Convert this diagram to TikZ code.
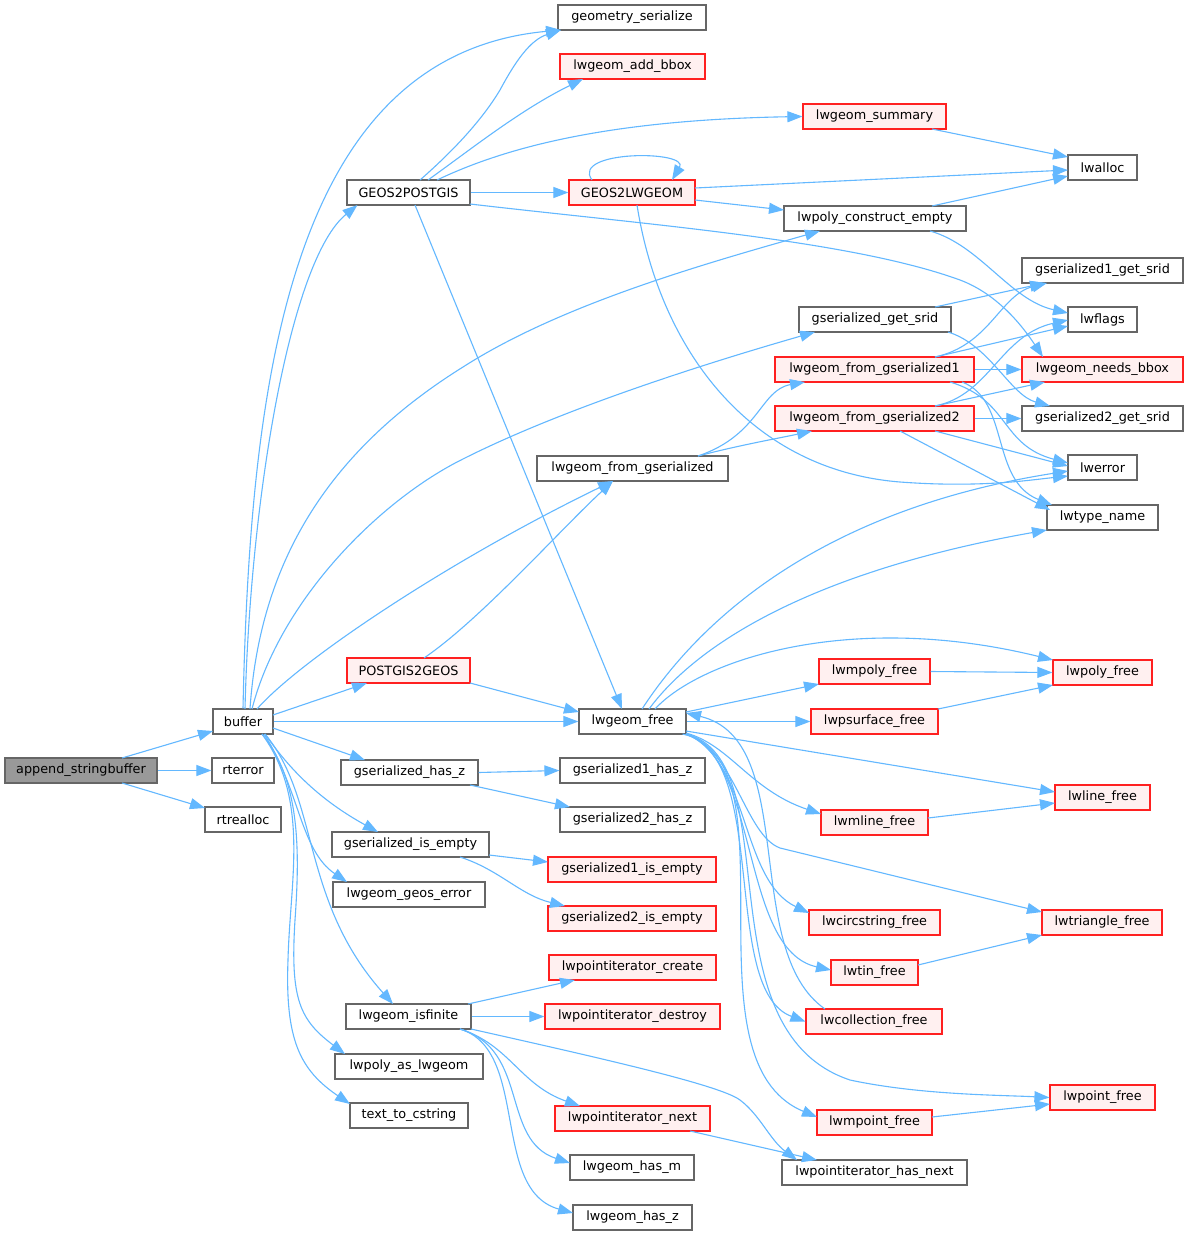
\documentclass[tikz,border=0pt]{standalone}
\usepackage{fontspec}
\setmainfont{DejaVu Sans}
\usetikzlibrary{arrows.meta}
\definecolor{edgec}{HTML}{63B8FF}
\definecolor{gborder}{HTML}{666666}
\definecolor{rfill}{HTML}{FFF0F0}
\definecolor{rborder}{HTML}{FF2020}
\definecolor{rootfill}{HTML}{999999}
\tikzset{
  nd/.style={draw=gborder, fill=white, line width=1.2pt, minimum height=25pt, inner sep=0pt,
    font=\fontsize{12.8}{14}\selectfont, text=black},
  rd/.style={nd, draw=rborder, fill=rfill},
  gr/.style={nd, fill=rootfill},
  ed/.style={draw=edgec, line width=1.1pt, -{Triangle[length=15pt,width=11pt]}}
}
\begin{document}
\begin{tikzpicture}[x=1pt,y=-1pt]
\useasboundingbox (0,0) rectangle (1188,1236);
\fill[white] (0,0) rectangle (1188,1236);

% ---------- nodes ----------
\node[gr, minimum width=152pt] (asb) at (81,770.5) {append\_stringbuffer};
\node[nd, minimum width=60pt] (buf) at (243,721.5) {buffer};
\node[nd, minimum width=62pt] (rterr) at (243,770.5) {rterror};
\node[nd, minimum width=76pt] (rtre) at (243,819.5) {rtrealloc};
\node[nd, minimum width=148pt] (gser) at (632,17.5) {geometry\_serialize};
\node[rd, minimum width=145pt] (addbb) at (632.5,66.5) {lwgeom\_add\_bbox};
\node[rd, minimum width=143pt] (summ) at (874.5,116.5) {lwgeom\_summary};
\node[nd, minimum width=69pt] (lwalloc) at (1102.5,167.5) {lwalloc};
\node[nd, minimum width=123pt] (g2p) at (408.5,192.5) {GEOS2POSTGIS};
\node[rd, minimum width=126pt] (g2l) at (632,192.5) {GEOS2LWGEOM};
\node[nd, minimum width=182pt] (pce) at (875,218.5) {lwpoly\_construct\_empty};
\node[nd, minimum width=161pt] (g1srid) at (1102.5,270.5) {gserialized1\_get\_srid};
\node[nd, minimum width=69pt] (lwflags) at (1102.5,319.5) {lwflags};
\node[nd, minimum width=152pt] (gsrid) at (875,319.5) {gserialized\_get\_srid};
\node[rd, minimum width=199pt] (fg1) at (874.5,369.5) {lwgeom\_from\_gserialized1};
\node[rd, minimum width=161pt] (nbbox) at (1102.5,369.5) {lwgeom\_needs\_bbox};
\node[rd, minimum width=199pt] (fg2) at (874.5,418.5) {lwgeom\_from\_gserialized2};
\node[nd, minimum width=161pt] (g2srid) at (1102.5,418.5) {gserialized2\_get\_srid};
\node[nd, minimum width=191pt] (fgs) at (632.5,468.5) {lwgeom\_from\_gserialized};
\node[nd, minimum width=69pt] (lwerror) at (1102.5,467.5) {lwerror};
\node[nd, minimum width=111pt] (tname) at (1102.5,517.5) {lwtype\_name};
\node[rd, minimum width=123pt] (p2g) at (408.5,670.5) {POSTGIS2GEOS};
\node[rd, minimum width=111pt] (mpolyf) at (874.5,671.5) {lwmpoly\_free};
\node[rd, minimum width=99pt] (polyf) at (1102.5,672.5) {lwpoly\_free};
\node[nd, minimum width=107pt] (gfree) at (632.5,721.5) {lwgeom\_free};
\node[rd, minimum width=127pt] (psurf) at (874.5,721.5) {lwpsurface\_free};
\node[nd, minimum width=137pt] (hasz) at (409.5,772.5) {gserialized\_has\_z};
\node[nd, minimum width=145pt] (g1hasz) at (632.5,770.5) {gserialized1\_has\_z};
\node[rd, minimum width=95pt] (linef) at (1102.5,797.5) {lwline\_free};
\node[nd, minimum width=145pt] (g2hasz) at (632.5,819.5) {gserialized2\_has\_z};
\node[rd, minimum width=107pt] (mlinef) at (874.5,822.5) {lwmline\_free};
\node[nd, minimum width=157pt] (isempty) at (410.5,844.5) {gserialized\_is\_empty};
\node[rd, minimum width=168pt] (g1empty) at (632,869.5) {gserialized1\_is\_empty};
\node[nd, minimum width=152pt] (geoserr) at (409,894.5) {lwgeom\_geos\_error};
\node[rd, minimum width=131pt] (circf) at (874.5,922.5) {lwcircstring\_free};
\node[rd, minimum width=120pt] (trif) at (1102,922.5) {lwtriangle\_free};
\node[rd, minimum width=168pt] (g2empty) at (632,918.5) {gserialized2\_is\_empty};
\node[rd, minimum width=167pt] (picreate) at (632.5,967.5) {lwpointiterator\_create};
\node[rd, minimum width=87pt] (tinf) at (874.5,972.5) {lwtin\_free};
\node[nd, minimum width=125pt] (isfin) at (408.5,1016.5) {lwgeom\_isfinite};
\node[rd, minimum width=175pt] (pidestroy) at (632.5,1016.5) {lwpointiterator\_destroy};
\node[rd, minimum width=136pt] (collf) at (874,1021.5) {lwcollection\_free};
\node[nd, minimum width=148pt] (polyasl) at (409,1066.5) {lwpoly\_as\_lwgeom};
\node[rd, minimum width=105pt] (pointf) at (1102.5,1097.5) {lwpoint\_free};
\node[rd, minimum width=155pt] (pinext) at (632.5,1118.5) {lwpointiterator\_next};
\node[rd, minimum width=115pt] (mpointf) at (874.5,1122.5) {lwmpoint\_free};
\node[nd, minimum width=118pt] (tcstr) at (409,1115.5) {text\_to\_cstring};
\node[nd, minimum width=124pt] (hasm) at (632,1167.5) {lwgeom\_has\_m};
\node[nd, minimum width=185pt] (pihasnext) at (874.5,1172.5) {lwpointiterator\_has\_next};
\node[nd, minimum width=119pt] (hasz2) at (632.5,1217.5) {lwgeom\_has\_z};

% ---------- edges ----------
% append_stringbuffer
\draw[ed] ([shift={(41,-12.5)}]asb.center) -- ([shift={(-30,9.5)}]buf.center);
\draw[ed] (asb.east) -- (rterr.west);
\draw[ed] ([shift={(41,12.5)}]asb.center) -- ([shift={(-38,-11.5)}]rtre.center);

% buffer
\draw[ed] (buf.north) .. controls (250,380) and (290,55) .. ([shift={(-71,12.5)}]gser.center);
\draw[ed] ([shift={(2,-12.5)}]buf.center) .. controls (250,500) and (290,260) .. ([shift={(-51,12.5)}]g2p.center);
\draw[ed] ([shift={(7,-12.5)}]buf.center) .. controls (260,560) and (330,450) .. (463,367) .. controls (560,305) and (700,265) .. ([shift={(-55,12.5)}]pce.center);
\draw[ed] ([shift={(9,-12.5)}]buf.center) .. controls (280,600) and (380,500) .. (463,459) .. controls (560,410) and (700,365) .. ([shift={(-60,12.5)}]gsrid.center);
\draw[ed] ([shift={(14,-12.5)}]buf.center) .. controls (300,660) and (450,560) .. ([shift={(-19.5,12.5)}]fgs.center);
\draw[ed] ([shift={(30,-6.5)}]buf.center) -- ([shift={(-41.5,12.5)}]p2g.center);
\draw[ed] (buf.east) -- (gfree.west);
\draw[ed] ([shift={(30,6.5)}]buf.center) -- ([shift={(-44.5,-12.5)}]hasz.center);
\draw[ed] ([shift={(22,12.5)}]buf.center) .. controls (290,770) and (320,800) .. ([shift={(-32.5,-12.5)}]isempty.center);
\draw[ed] ([shift={(21,12.5)}]buf.center) .. controls (300,790) and (300,850) .. ([shift={(-62,-12.5)}]geoserr.center);
\draw[ed] ([shift={(22,12.5)}]buf.center) .. controls (320,800) and (300,900) .. ([shift={(-15.5,-12.5)}]isfin.center);
\draw[ed] ([shift={(19,12.5)}]buf.center) .. controls (300,780) and (300,850) .. (295,920) .. controls (290,1000) and (300,1020) .. ([shift={(-64,-12.5)}]polyasl.center);
\draw[ed] ([shift={(19,12.5)}]buf.center) .. controls (310,800) and (290,880) .. (288,960) .. controls (285,1040) and (300,1070) .. ([shift={(-59,-11.5)}]tcstr.center);

% POSTGIS2GEOS
\draw[ed] ([shift={(15.5,-12.5)}]p2g.center) .. controls (480,620) and (560,530) .. ([shift={(-19.5,12.5)}]fgs.center);
\draw[ed] ([shift={(61.5,12.5)}]p2g.center) -- ([shift={(-53.5,-9.5)}]gfree.center);

% GEOS2POSTGIS
\draw[ed] ([shift={(11.5,-12.5)}]g2p.center) .. controls (460,145) and (485,115) .. (500,90) .. controls (515,62) and (530,40) .. ([shift={(-71,12.5)}]gser.center);
\draw[ed] ([shift={(19.5,-12.5)}]g2p.center) .. controls (470,150) and (520,110) .. ([shift={(-49.5,12.5)}]addbb.center);
\draw[ed] ([shift={(28.5,-12.5)}]g2p.center) .. controls (500,150) and (600,120) .. (summ.west);
\draw[ed] (g2p.east) -- (g2l.west);
\draw[ed] ([shift={(61.5,11.5)}]g2p.center) .. controls (650,225) and (850,240) .. (960,280) .. controls (1000,295) and (1025,330) .. ([shift={(-59.5,-12.5)}]nbbox.center);
\draw[ed] ([shift={(6.5,12.5)}]g2p.center) -- ([shift={(-10.5,-12.5)}]gfree.center);

% GEOS2LWGEOM
\draw[ed] ([shift={(-40,-12.5)}]g2l.center) .. controls (570,150) and (690,150) .. ([shift={(40,-12.5)}]g2l.center);
\draw[ed] ([shift={(63,-4.5)}]g2l.center) -- ([shift={(-34.5,2.5)}]lwalloc.center);
\draw[ed] ([shift={(63,7.5)}]g2l.center) -- ([shift={(-91,-8.5)}]pce.center);
\draw[ed] ([shift={(5,12.5)}]g2l.center) .. controls (660,350) and (750,470) .. (900,482) .. controls (980,488) and (1030,480) .. ([shift={(-34.5,8.5)}]lwerror.center);

% lwgeom_summary, lwpoly_construct_empty
\draw[ed] ([shift={(57.5,12.5)}]summ.center) -- ([shift={(-34.5,-10.5)}]lwalloc.center);
\draw[ed] ([shift={(57,-12.5)}]pce.center) -- ([shift={(-34.5,8.5)}]lwalloc.center);
\draw[ed] ([shift={(55,12.5)}]pce.center) .. controls (980,245) and (1010,300) .. ([shift={(-34.5,-6.5)}]lwflags.center);

% gserialized_get_srid
\draw[ed] ([shift={(60,-12.5)}]gsrid.center) -- ([shift={(-57.5,12.5)}]g1srid.center);
\draw[ed] ([shift={(73,12.5)}]gsrid.center) .. controls (990,345) and (1010,395) .. ([shift={(-52.5,-12.5)}]g2srid.center);

% lwgeom_from_gserialized
\draw[ed] ([shift={(65.5,-12.5)}]fgs.center) .. controls (760,435) and (760,390) .. ([shift={(-69.5,12.5)}]fg1.center);
\draw[ed] ([shift={(65.5,-12.5)}]fgs.center) .. controls (740,445) and (780,438) .. ([shift={(-62.5,12.5)}]fg2.center);

% lwgeom_from_gserialized1
\draw[ed] ([shift={(60.5,-12.5)}]fg1.center) .. controls (990,345) and (1000,295) .. ([shift={(-55.5,12.5)}]g1srid.center);
\draw[ed] ([shift={(60.5,-12.5)}]fg1.center) -- ([shift={(-34.5,6.5)}]lwflags.center);
\draw[ed] (fg1.east) -- (nbbox.west);
\draw[ed] ([shift={(75.5,12.5)}]fg1.center) .. controls (1010,400) and (1000,445) .. ([shift={(-34.5,-4.5)}]lwerror.center);
\draw[ed] ([shift={(87.5,12.5)}]fg1.center) .. controls (1010,400) and (990,480) .. ([shift={(-50.5,-12.5)}]tname.center);

% lwgeom_from_gserialized2
\draw[ed] ([shift={(60.5,-12.5)}]fg2.center) .. controls (990,395) and (1000,335) .. ([shift={(-34.5,0.5)}]lwflags.center);
\draw[ed] ([shift={(60.5,-12.5)}]fg2.center) -- ([shift={(-57.5,12.5)}]nbbox.center);
\draw[ed] (fg2.east) -- (g2srid.west);
\draw[ed] ([shift={(60.5,12.5)}]fg2.center) -- ([shift={(-34.5,-1.5)}]lwerror.center);
\draw[ed] ([shift={(25.5,12.5)}]fg2.center) -- ([shift={(-52.5,-7.5)}]tname.center);

% lwgeom_free
\draw[ed] ([shift={(9.5,-12.5)}]gfree.center) .. controls (700,620) and (820,510) .. ([shift={(-34.5,3.5)}]lwerror.center);
\draw[ed] ([shift={(16.5,-12.5)}]gfree.center) .. controls (700,640) and (820,570) .. ([shift={(-55.5,12.5)}]tname.center);
\draw[ed] ([shift={(22.5,-12.5)}]gfree.center) .. controls (700,660) and (850,610) .. ([shift={(-49.5,-12.5)}]polyf.center);
\draw[ed] ([shift={(53.5,-9.5)}]gfree.center) -- ([shift={(-55.5,12.5)}]mpolyf.center);
\draw[ed] (gfree.east) -- (psurf.west);
\draw[ed] ([shift={(53.5,9.5)}]gfree.center) -- ([shift={(-47.5,-5.5)}]linef.center);
\draw[ed] ([shift={(53.5,11.5)}]gfree.center) .. controls (730,745) and (750,790) .. ([shift={(-53.5,-8.5)}]mlinef.center);
\draw[ed] ([shift={(53.5,12.5)}]gfree.center) .. controls (735,750) and (745,835) .. (780,848) -- ([shift={(-60,-10.5)}]trif.center);
\draw[ed] ([shift={(53.5,12.5)}]gfree.center) .. controls (750,760) and (740,880) .. ([shift={(-65.5,-9.5)}]circf.center);
\draw[ed] ([shift={(53.5,12.5)}]gfree.center) .. controls (760,760) and (740,950) .. ([shift={(-43.5,-2.5)}]tinf.center);
\draw[ed] ([shift={(53.5,12.5)}]gfree.center) .. controls (770,760) and (720,990) .. (collf.west);
\draw[ed] ([shift={(53.5,12.5)}]gfree.center) .. controls (790,760) and (700,1030) .. (850,1080) .. controls (920,1095) and (1000,1095) .. (pointf.west);
\draw[ed] ([shift={(50,12.5)}]gfree.center) .. controls (800,760) and (680,1060) .. ([shift={(-57.5,-5.5)}]mpointf.center);
\draw[ed] ([shift={(-49,-12.5)}]collf.center) .. controls (740,950) and (800,740) .. ([shift={(53.5,-8.5)}]gfree.center);

% second-level free functions
\draw[ed] (mpolyf.east) -- (polyf.west);
\draw[ed] ([shift={(63.5,-12.5)}]psurf.center) -- ([shift={(-49.5,12.5)}]polyf.center);
\draw[ed] ([shift={(53.5,-4.5)}]mlinef.center) -- ([shift={(-47.5,5.5)}]linef.center);
\draw[ed] ([shift={(43.5,-7.5)}]tinf.center) -- ([shift={(-60,12.5)}]trif.center);
\draw[ed] ([shift={(57.5,-5.5)}]mpointf.center) -- ([shift={(-52.5,6.5)}]pointf.center);

% gserialized_has_z / is_empty
\draw[ed] (hasz.east) -- (g1hasz.west);
\draw[ed] ([shift={(60.5,12.5)}]hasz.center) -- ([shift={(-62.5,-12.5)}]g2hasz.center);
\draw[ed] ([shift={(78.5,10.5)}]isempty.center) -- ([shift={(-84,-7.5)}]g1empty.center);
\draw[ed] ([shift={(49.5,12.5)}]isempty.center) .. controls (500,870) and (520,895) .. ([shift={(-67,-12.5)}]g2empty.center);

% lwgeom_isfinite
\draw[ed] ([shift={(59.5,-12.5)}]isfin.center) -- ([shift={(-57.5,12.5)}]picreate.center);
\draw[ed] (isfin.east) -- (pidestroy.west);
\draw[ed] ([shift={(62.5,12.5)}]isfin.center) .. controls (600,1058) and (720,1085) .. (740,1100) .. controls (760,1115) and (770,1140) .. ([shift={(-77.5,-12.5)}]pihasnext.center);
\draw[ed] ([shift={(51.5,12.5)}]isfin.center) .. controls (510,1045) and (520,1085) .. ([shift={(-52.5,-12.5)}]pinext.center);
\draw[ed] ([shift={(51.5,12.5)}]isfin.center) .. controls (530,1050) and (500,1140) .. ([shift={(-62,-4.5)}]hasm.center);
\draw[ed] ([shift={(51.5,12.5)}]isfin.center) .. controls (530,1050) and (490,1190) .. ([shift={(-59.5,-4.5)}]hasz2.center);
\draw[ed] ([shift={(57.5,12.5)}]pinext.center) -- ([shift={(-57.5,-12.5)}]pihasnext.center);

\end{tikzpicture}
\end{document}
